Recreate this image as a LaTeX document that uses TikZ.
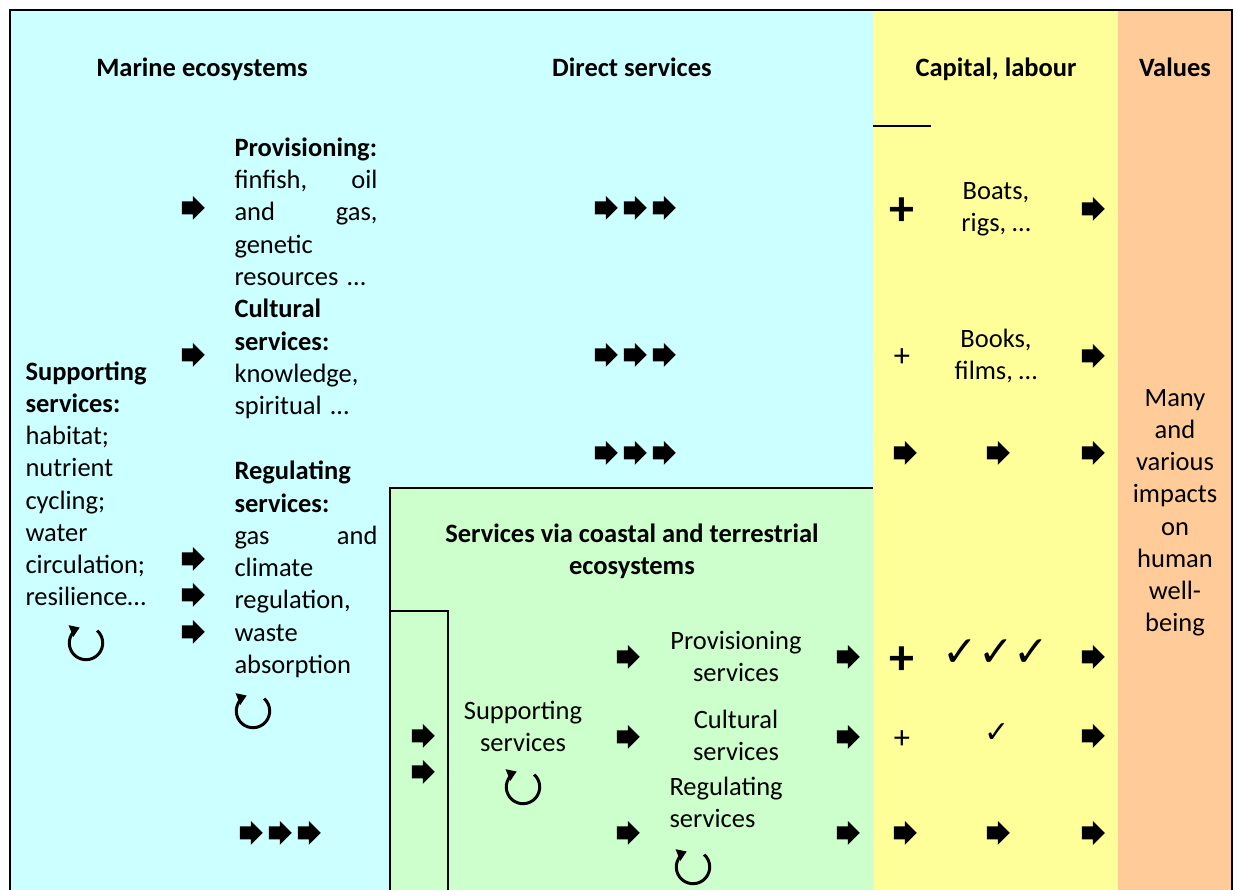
\documentclass[tikz,border=0pt]{standalone}
\usepackage{fontspec}
\setmainfont{Carlito}
\newfontfamily\symbfont{DejaVu Sans}
\usetikzlibrary{positioning, shapes.arrows, arrows.meta}
\definecolor{seacyan}{HTML}{CCFFFF}
\definecolor{coastgreen}{HTML}{CCFFCC}
\definecolor{capyellow}{HTML}{FFFF99}
\definecolor{valorange}{HTML}{FFCC99}
\tikzset{
	bodytext/.style={font=\fontsize{10.6}{12.9}\selectfont, inner sep=0pt}
}
\tikzset{
	headtext/.style={font=\fontsize{10.6}{12.9}\selectfont\bfseries, inner sep=0pt}
}
\tikzset{
	blockarrow/.style={single arrow, fill=black, inner xsep=0pt, inner ysep=2.4pt,
		single arrow head extend=2.2pt, minimum height=9.2pt, minimum width=0pt}
}
\tikzset{
	cyclearrow/.style={line width=1.2pt, -{Triangle[length=3.8pt,width=4.8pt]}}
}

\begin{document}
\begin{tikzpicture}[x=0.4pt, y=-0.4pt]
      \useasboundingbox (0,0) rectangle (1235,890);
      % column backgrounds
      \fill[seacyan] (10,10) rectangle (873,890);
      \fill[capyellow] (873,10) rectangle (1118,890);
      \fill[valorange] (1118,10) rectangle (1232,890);
      \fill[coastgreen] (390,488) rectangle (873,890);
      % frames
      \draw[line width=1pt] (10,890) -- (10,10) -- (1232,10) -- (1232,890);
      \draw[line width=0.8pt] (390,890) -- (390,488) -- (873,488);
      \draw[line width=0.8pt] (390,611) -- (448,611) -- (448,890);
      \draw[line width=0.8pt] (873,126) -- (931,126);
      % headings
      \node[headtext, anchor=base] (marine) at (202,77) {Marine ecosystems};
      \node[headtext, anchor=base] (direct) at (632,77) {Direct services};
      \node[headtext, anchor=base] (capital) at (996,77) {Capital, labour};
      \node[headtext, anchor=base] (values) at (1175,77) {Values};
      % marine ecosystem services (base = last line here)
      \node[bodytext, anchor=base west, align=left] (msupp) at (25,606)
        {\textbf{Supporting}\\\textbf{services:}\\habitat;\\nutrient\\cycling;\\water\\circulation;\\resilience…};
      \node[bodytext, anchor=base west, align=left, text width=57.2pt] (mprov) at (234,156.5)
        {\textbf{Provisioning:}\\finfish,\hfill oil\\and\hfill gas,\\genetic\\resources …};
      \node[bodytext, anchor=base west, align=left, text width=57.2pt] (mcult) at (234,318)
        {\textbf{Cultural}\\\textbf{services:}\\knowledge,\\spiritual …};
      \node[bodytext, anchor=base west, align=left, text width=57.2pt] (mreg) at (234,480)
        {\textbf{Regulating}\\\textbf{services:}\\gas\hfill and\\climate\\regulation,\\waste\\absorption};
      \foreach \y [count=\i] in {208,355,559,595,632}
        \node[blockarrow] (min\i) at (190,\y) {};
      \foreach \y [count=\j] in {208,355,453}
        \foreach \x [count=\i] in {603,632,661}
          \node[blockarrow] (ds\j\i) at (\x,\y) {};
      \foreach \x [count=\i] in {248,277,306}
        \node[blockarrow] (mout\i) at (\x,833) {};
      % cycles
      \foreach \cx/\cy in {86/643, 253/711, 523/787, 693/867}
        \draw[cyclearrow] (\cx,\cy) ++(-48:16.7) arc[start angle=-48, end angle=248, radius=16.7];
      % coastal and terrestrial box
      \node[headtext, anchor=base, align=center] (coastal) at (632,575)
        {Services via coastal and terrestrial\\ecosystems};
      \node[bodytext, anchor=base, align=center] (csupp) at (523,752) {Supporting\\services};
      \node[bodytext, anchor=base, align=center] (cprov) at (736,682) {Provisioning\\services};
      \node[bodytext, anchor=base, align=center] (ccult) at (736,761) {Cultural\\services};
      \node[bodytext, anchor=base west, align=left] (creg) at (669,828) {Regulating\\services};
      \foreach \y [count=\i] in {736,772}
        \node[blockarrow] (cin\i) at (420,\y) {};
      \foreach \y [count=\i] in {657,737,833} {
        \node[blockarrow] (cto\i) at (625,\y) {};
        \node[blockarrow] (cout\i) at (845,\y) {};
      }
      % capital and labour
      \node[font=\fontsize{20}{20}\selectfont\bfseries, inner sep=0pt] (plus1) at (902,212) {+};
      \node[font=\fontsize{13}{13}\selectfont, inner sep=0pt] (plus2) at (902,358) {+};
      \node[font=\fontsize{20}{20}\selectfont\bfseries, inner sep=0pt] (plus3) at (902,661) {+};
      \node[font=\fontsize{13}{13}\selectfont, inner sep=0pt] (plus4) at (902,740) {+};
      \node[bodytext, anchor=base, align=center] (boats) at (996,232) {Boats,\\rigs, …};
      \node[bodytext, anchor=base, align=center] (books) at (996,380) {Books,\\films, …};
      \node[font=\symbfont\fontsize{17}{17}\selectfont, inner sep=0pt] (ticks1) at (996,653) {✓✓✓};
      \node[font=\symbfont\fontsize{12}{12}\selectfont, inner sep=0pt] (ticks2) at (997,733) {✓};
      \foreach \y [count=\i] in {209,356,453,657,736,833}
        \node[blockarrow] (cap\i) at (1090,\y) {};
      \foreach \x [count=\i] in {902,995} {
        \node[blockarrow] (capa\i) at (\x,453) {};
        \node[blockarrow] (capb\i) at (\x,833) {};
      }
      % values
      \node[bodytext, anchor=base, align=center] (impacts) at (1175,632)
        {Many\\and\\various\\impacts\\on\\human\\well-\\being};
    \end{tikzpicture}
\end{document}
